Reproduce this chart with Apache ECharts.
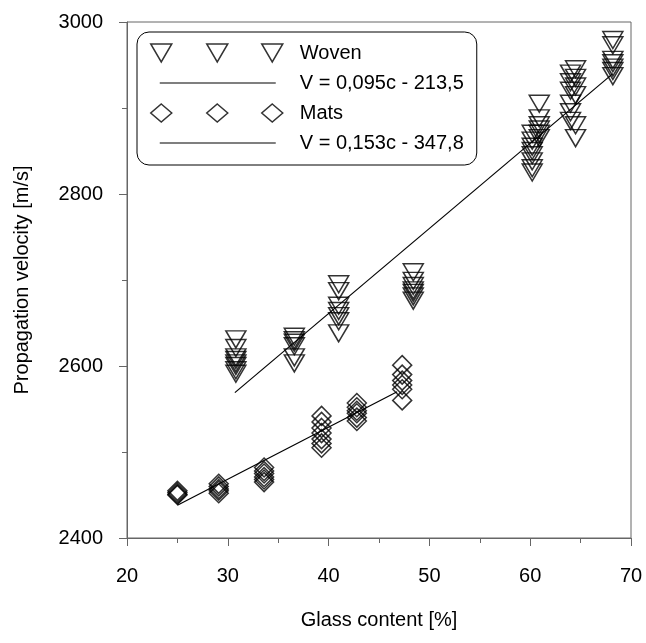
<!DOCTYPE html>
<html>
<head>
<meta charset="utf-8">
<script src="https://cdn.jsdelivr.net/npm/echarts@6/dist/echarts.min.js"></script>
<style>
  html, body { margin: 0; padding: 0; background: #fff; }
  #chart { width: 646px; height: 643px; }
</style>
</head>
<body>
<div id="chart"></div>
<script>
// Woven fabric: glass content [%], propagation velocity [m/s]
var wovenX = [30.8, 30.8, 30.8, 30.8, 30.8, 30.8, 30.8, 30.8,
              36.6, 36.6, 36.6, 36.6, 36.6, 36.6,
              41.0, 41.0, 41.0, 41.0, 41.0, 41.0, 41.0,
              48.4, 48.4, 48.4, 48.4, 48.4, 48.4, 48.4,
              60.2, 60.2, 60.2, 60.2, 60.2, 60.2, 60.2, 60.2,
              60.9, 60.9, 60.9, 60.9, 60.9, 60.9,
              64.0, 64.0, 64.0, 64.0, 64.0, 64.0,
              64.5, 64.5, 64.5, 64.5, 64.5, 64.5,
              68.2, 68.2, 68.2, 68.2, 68.2, 68.2, 68.2];
var wovenV = [2631, 2621, 2610, 2607, 2603, 2600, 2595, 2591,
              2634, 2630, 2627, 2623, 2610, 2603,
              2695, 2687, 2670, 2664, 2658, 2652, 2638,
              2709, 2699, 2693, 2688, 2685, 2681, 2676,
              2870, 2862, 2855, 2850, 2845, 2838, 2830, 2825,
              2905, 2888, 2880, 2875, 2870, 2865,
              2940, 2930, 2920, 2905, 2895, 2885,
              2945, 2935, 2925, 2915, 2880, 2865,
              2979, 2973, 2956, 2952, 2947, 2943, 2937];

// Mats
var matsX = [25.0, 25.0, 25.0, 25.0,
             29.1, 29.1, 29.1, 29.1, 29.1,
             33.6, 33.6, 33.6, 33.6, 33.6, 33.6,
             39.3, 39.3, 39.3, 39.3, 39.3, 39.3, 39.3,
             42.8, 42.8, 42.8, 42.8, 42.8, 42.8,
             47.3, 47.3, 47.3, 47.3, 47.3, 47.3];
var matsV = [2455, 2453, 2451, 2450,
             2463, 2460, 2457, 2455, 2452,
             2482, 2478, 2475, 2471, 2468, 2465,
             2542, 2535, 2528, 2522, 2515, 2510, 2505,
             2557, 2552, 2548, 2545, 2540, 2536,
             2601, 2590, 2583, 2578, 2573, 2560];

// regression lines (end points)
var wovenFitX = [30.7, 68.2];
var wovenFitV = [2569, 2940];
var matsFitX = [25.0, 46.8];
var matsFitV = [2438, 2570];

var names = ['Woven', 'V = 0,095c - 213,5', 'Mats', 'V = 0,153c - 347,8'];

function pairs(xs, ys) {
  return xs.map(function (x, i) { return [x, ys[i]]; });
}

var FONT = 'Liberation Sans, Arial, sans-serif';
var AXIS_COLOR = '#666';

// legend icons: three symbols / a plain line, padded so the text starts at the same x
var triIcon = 'path://M0,0 L21,0 L10.5,18 Z M56,0 L77,0 L66.5,18 Z M111,0 L132,0 L121.5,18 Z M144,0';
var diaIcon = 'path://M10.5,0 L21,9 L10.5,18 L0,9 Z M66.5,0 L77,9 L66.5,18 L56,9 Z M121.5,0 L132,9 L121.5,18 L111,9 Z M144,0';
var lineIcon = 'path://M0,0 M9,9 L125,9 M144,18';

var chart = echarts.init(document.getElementById('chart'), null, { renderer: 'canvas' });
chart.setOption({
  animation: false,
  textStyle: { fontFamily: FONT },
  grid: { left: 127, right: 15, top: 22, bottom: 105, show: true, borderColor: AXIS_COLOR, borderWidth: 1 },
  legend: {
    orient: 'vertical',
    left: 137, top: 32,
    padding: [11, 13, 12, 13],
    itemWidth: 144, itemHeight: 18, itemGap: 10,
    borderColor: '#000', borderWidth: 1, borderRadius: 12,
    textStyle: { fontFamily: FONT, fontSize: 20, color: '#000' },
    itemStyle: { color: 'rgba(0,0,0,0)', borderColor: '#000', borderWidth: 1.5 },
    selectedMode: false,
    data: [
      { name: names[0], icon: triIcon },
      { name: names[1], icon: lineIcon, itemStyle: { borderWidth: 1.2 } },
      { name: names[2], icon: diaIcon },
      { name: names[3], icon: lineIcon, itemStyle: { borderWidth: 1.2 } }
    ]
  },
  xAxis: {
    type: 'value', min: 20, max: 70, interval: 10,
    name: 'Glass content [%]', nameLocation: 'middle', nameGap: 72,
    nameTextStyle: { fontSize: 20, color: '#000' },
    axisLine: { lineStyle: { color: AXIS_COLOR } },
    axisTick: { inside: false, length: 8, lineStyle: { color: AXIS_COLOR } },
    minorTick: { show: true, splitNumber: 2, length: 5, lineStyle: { color: AXIS_COLOR } },
    axisLabel: { fontSize: 20, color: '#000', margin: 28 },
    splitLine: { show: false }
  },
  yAxis: {
    type: 'value', min: 2400, max: 3000, interval: 200,
    name: 'Propagation velocity [m/s]', nameLocation: 'middle', nameGap: 95,
    nameTextStyle: { fontSize: 20, color: '#000' },
    axisLine: { show: true, lineStyle: { color: AXIS_COLOR } },
    axisTick: { show: true, inside: false, length: 8, lineStyle: { color: AXIS_COLOR } },
    minorTick: { show: true, splitNumber: 2, length: 5, lineStyle: { color: AXIS_COLOR } },
    axisLabel: { fontSize: 20, color: '#000', margin: 24, formatter: function (v) { return String(v); } },
    splitLine: { show: false }
  },
  series: [
    {
      name: names[0], type: 'scatter', data: pairs(wovenX, wovenV),
      symbol: 'triangle', symbolRotate: 180, symbolSize: [20, 17],
      itemStyle: { color: 'rgba(0,0,0,0)', borderColor: '#000', borderWidth: 1.5 }
    },
    {
      name: names[1], type: 'line', data: pairs(wovenFitX, wovenFitV),
      showSymbol: false, lineStyle: { color: '#000', width: 1.2 }, itemStyle: { color: '#000' }
    },
    {
      name: names[2], type: 'scatter', data: pairs(matsX, matsV),
      symbol: 'diamond', symbolSize: [19, 19],
      itemStyle: { color: 'rgba(0,0,0,0)', borderColor: '#000', borderWidth: 1.5 }
    },
    {
      name: names[3], type: 'line', data: pairs(matsFitX, matsFitV),
      showSymbol: false, lineStyle: { color: '#000', width: 1.2 }, itemStyle: { color: '#000' }
    }
  ]
});
</script>
</body>
</html>
